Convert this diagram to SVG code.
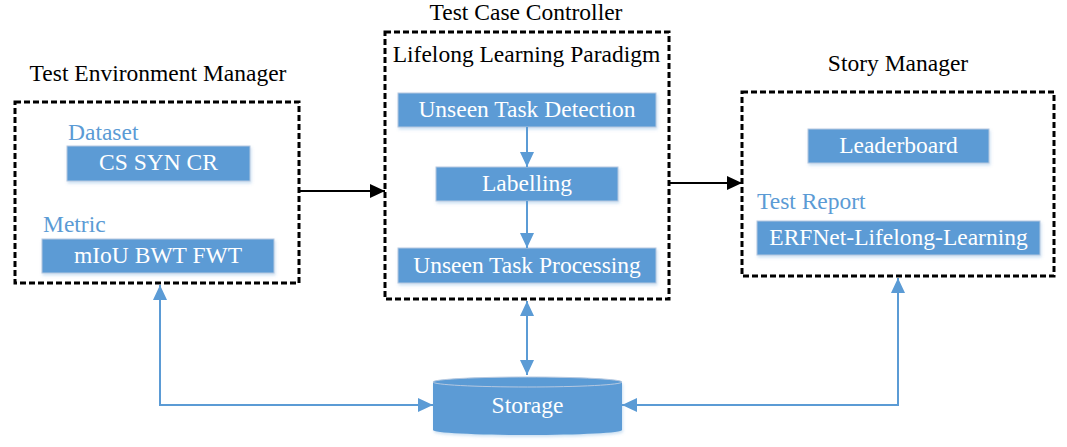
<svg xmlns="http://www.w3.org/2000/svg" width="1067" height="447" viewBox="0 0 1067 447">
<defs>
<style>
text{font-family:"Liberation Serif","Times New Roman","DejaVu Serif",serif;font-size:23.5px}
.title{fill:#000}
.lbl{fill:#5b9bd5}
.bt{fill:#fff;text-anchor:middle}
.box{fill:#5b9bd5;stroke:#b5c8e0;stroke-width:1;filter:url(#sh)}
.dash{fill:none;stroke:#000;stroke-width:3;stroke-dasharray:6 3}
.bl{fill:none;stroke:#5b9bd5;stroke-width:2}
.bk{fill:none;stroke:#000;stroke-width:2}
</style>
<filter id="sh" x="-10%" y="-20%" width="120%" height="150%">
<feDropShadow dx="1" dy="2" stdDeviation="1.5" flood-color="#5b9bd5" flood-opacity="0.3"/>
</filter>
<marker id="ab" viewBox="0 0 15 14" refX="15" refY="7" markerWidth="15" markerHeight="14" markerUnits="userSpaceOnUse" orient="auto-start-reverse">
<path d="M0,0 L15,7 L0,14 Z" fill="#5b9bd5"/>
</marker>
<marker id="ak" viewBox="0 0 15 14" refX="15" refY="7" markerWidth="15" markerHeight="14" markerUnits="userSpaceOnUse" orient="auto">
<path d="M0,0 L15,7 L0,14 Z" fill="#000"/>
</marker>
</defs>
<rect width="1067" height="447" fill="#fff"/>

<g id="test-environment-manager">
<text class="title" x="158" y="81" text-anchor="middle" font-family="Liberation Serif, serif">Test Environment Manager</text>
<rect class="dash" x="15" y="102" width="284" height="181"/>
<text class="lbl" x="68" y="140" font-family="Liberation Serif, serif">Dataset</text>
<rect class="box" x="67" y="146" width="183" height="35"/>
<text class="bt" x="158.5" y="170" font-family="Liberation Serif, serif">CS SYN CR</text>
<text class="lbl" x="43" y="232" font-family="Liberation Serif, serif">Metric</text>
<rect class="box" x="42" y="239" width="232" height="34"/>
<text class="bt" x="158" y="263" font-family="Liberation Serif, serif">mIoU BWT FWT</text>
</g>

<g id="test-case-controller">
<text class="title" x="526" y="20" text-anchor="middle" font-family="Liberation Serif, serif">Test Case Controller</text>
<rect class="dash" x="385" y="32" width="284" height="267"/>
<text class="title" x="526.5" y="62" text-anchor="middle" font-family="Liberation Serif, serif">Lifelong Learning Paradigm</text>
<g id="unseen-task-detection">
<rect class="box" x="398" y="93" width="258" height="34"/>
<text class="bt" x="527" y="117" font-family="Liberation Serif, serif">Unseen Task Detection</text>
</g>
<g id="labelling">
<rect class="box" x="436" y="167" width="182" height="34"/>
<text class="bt" x="527" y="191" font-family="Liberation Serif, serif">Labelling</text>
</g>
<g id="unseen-task-processing">
<rect class="box" x="398" y="248" width="258" height="35"/>
<text class="bt" x="527" y="273" font-family="Liberation Serif, serif">Unseen Task Processing</text>
</g>
</g>

<g id="story-manager">
<text class="title" x="898" y="71" text-anchor="middle" font-family="Liberation Serif, serif">Story Manager</text>
<rect class="dash" x="742" y="92" width="312" height="184"/>
<rect class="box" x="808" y="129" width="181" height="34"/>
<text class="bt" x="898.5" y="153" font-family="Liberation Serif, serif">Leaderboard</text>
<text class="lbl" x="757" y="209" font-family="Liberation Serif, serif">Test Report</text>
<rect class="box" x="757" y="221" width="283" height="34"/>
<text class="bt" x="898.5" y="245" font-family="Liberation Serif, serif">ERFNet-Lifelong-Learning</text>
</g>

<g id="storage">
<path d="M433,382 L433,430 A94.5,5 0 0 0 622,430 L622,382 Z" fill="#5b9bd5" filter="url(#sh)"/>
<ellipse cx="527.5" cy="382" rx="94.5" ry="5" fill="#5b9bd5" stroke="#b5c8e0" stroke-width="1"/>
<text class="bt" x="527.5" y="413" font-family="Liberation Serif, serif">Storage</text>
</g>

<g id="connectors">
<line class="bl" x1="527" y1="127" x2="527" y2="167" marker-end="url(#ab)"/>
<line class="bl" x1="527" y1="201" x2="527" y2="248" marker-end="url(#ab)"/>
<line class="bk" x1="300" y1="191" x2="385" y2="191" marker-end="url(#ak)"/>
<line class="bk" x1="670" y1="183" x2="742" y2="183" marker-end="url(#ak)"/>
<line class="bl" x1="527" y1="301" x2="527" y2="375" marker-start="url(#ab)" marker-end="url(#ab)"/>
<polyline class="bl" points="160,285 160,405 433,405" marker-start="url(#ab)" marker-end="url(#ab)"/>
<polyline class="bl" points="898,278 898,405 622,405" marker-start="url(#ab)" marker-end="url(#ab)"/>
</g>
</svg>
